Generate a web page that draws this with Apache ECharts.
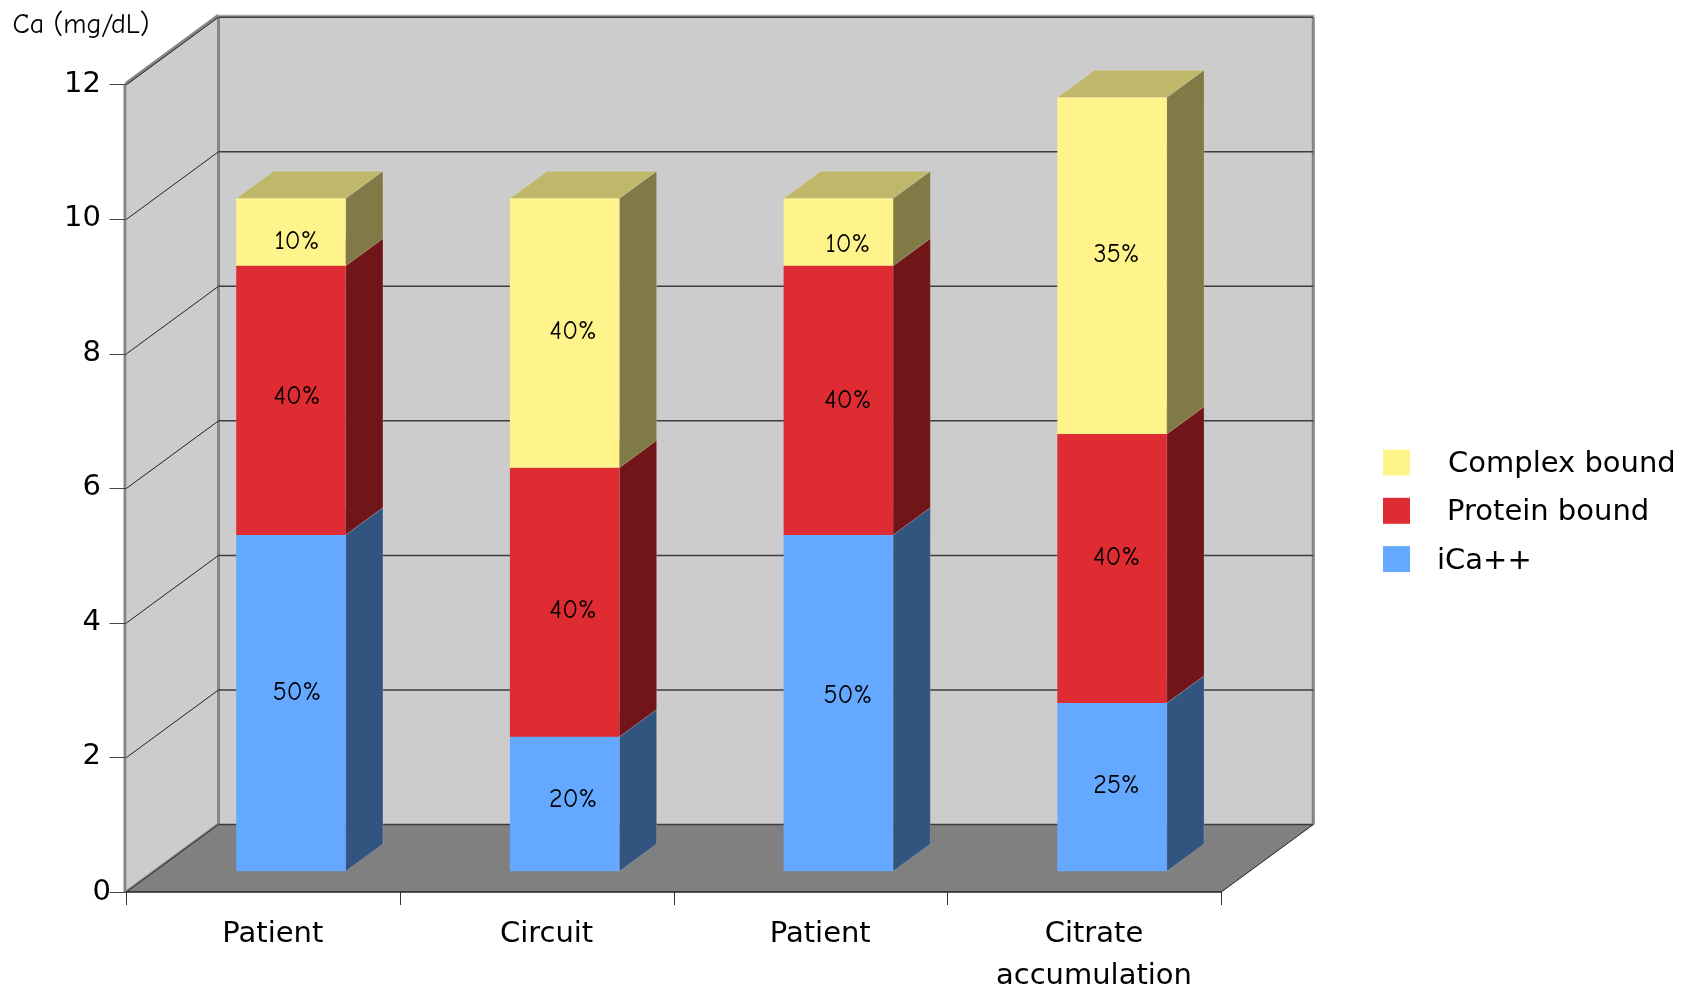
<!DOCTYPE html>
<html>
<head>
<meta charset="utf-8">
<style>html,body{margin:0;padding:0;background:#fff}#chart{width:1692px;height:989px}</style>
<script src="https://cdn.jsdelivr.net/npm/echarts@6/dist/echarts.min.js"></script>
</head>
<body>
<div id="chart"></div>
<script>
// Calcium fractions (mg/dL) at each sampling point
const categories = ['Patient', 'Circuit', 'Patient', 'Citrate\naccumulation'];
const iCa = [5, 2, 5, 2.5];
const proteinBound = [4, 4, 4, 4];
const complexBound = [1, 4, 1, 5];
const iCaPercent = ['50%', '20%', '50%', '25%'];
const proteinPercent = ['40%', '40%', '40%', '40%'];
const complexPercent = ['10%', '40%', '10%', '35%'];
const yTicks = [0, 2, 4, 6, 8, 10, 12];

// Oblique projection of the chart box, in pixels
const DEPTH_X = 92;
const DEPTH_Y = -67.5;
const BAR_NEAR_X = 0.3;
const BAR_NEAR_Y = 0.307;
const BAR_DEPTH = 0.405;
const BAR_WIDTH = 0.4;

const SANS = '"DejaVu Sans", Verdana, sans-serif';
const HAND = '"Comic Sans MS", "Comic Neue", Lato, sans-serif';

// Hand placement of the percentage labels, [dx, dy] from the centre of each segment
const NUDGE_X = [6, 8.5, 9.5, 4.5];
const NUDGE_Y = {
  iCa: [-10.5, -4.5, -7, -2],
  protein: [-3.5, 8.4, 0, -11],
  complex: [9, -1, 12.5, -11.4]
};

function poly(points, fill, stroke) {
  return { type: 'polygon', shape: { points }, style: { fill, stroke: stroke || null, lineWidth: 1 } };
}
function line(x1, y1, x2, y2, stroke, lineWidth) {
  return { type: 'line', shape: { x1, y1, x2, y2 }, style: { stroke, lineWidth, fill: null } };
}

// Back wall, side wall and floor
function renderBox(params, api) {
  const band = api.size([1, 0])[0];
  const last = categories.length - 1;
  const lo = api.coord([0, api.value(0)]);
  const hi = api.coord([0, api.value(1)]);
  const x0 = lo[0] - band / 2;
  const x1 = api.coord([last, 0])[0] + band / 2;
  const y0 = lo[1];
  const y1 = hi[1];
  const bx = x0 + DEPTH_X;
  const bx1 = x1 + DEPTH_X;
  const by0 = y0 + DEPTH_Y;
  const by1 = y1 + DEPTH_Y;
  const edge = '#858585';
  return {
    type: 'group',
    children: [
      poly([[bx, by1], [bx1, by1], [bx1, by0], [bx, by0]], '#cccccc'),
      poly([[x0, y0], [bx, by0], [bx, by1], [x0, y1]], '#cccccc'),
      poly([[x0, y0], [x1, y0], [bx1, by0], [bx, by0]], '#808080'),
      line(x0 - 1.5, y0, x0 - 1.5, y1, edge, 3),
      line(bx, by0, bx, by1, edge, 3),
      line(bx1, by0, bx1, by1, edge, 3),
      line(x0 - 1, y1 - 1, bx, by1 - 2, edge, 3),
      line(bx, by1 - 1, bx1 + 1, by1 - 1, '#a8a8a8', 3),
      line(x0, y0 - 1, bx, by0 - 1, edge, 2)
    ]
  };
}

// One gridline running along the side wall and the back wall
function renderGridLine(params, api) {
  const band = api.size([1, 0])[0];
  const p = api.coord([0, api.value(0)]);
  const x0 = p[0] - band / 2;
  const x1 = api.coord([categories.length - 1, 0])[0] + band / 2;
  const bx = x0 + DEPTH_X;
  const by = p[1] + DEPTH_Y;
  return {
    type: 'group',
    children: [
      line(x0, p[1], bx, by, '#222222', 1),
      line(bx, by, x1 + DEPTH_X, by, '#3c3c3c', 1.5)
    ]
  };
}

// Right-hand floor edge sits above the gridlines
function renderFloorEdge(params, api) {
  const band = api.size([1, 0])[0];
  const p = api.coord([0, 0]);
  const x1 = api.coord([categories.length - 1, 0])[0] + band / 2;
  return line(x1, p[1], x1 + DEPTH_X, p[1] + DEPTH_Y, '#222222', 1);
}

// A stacked segment drawn as an oblique box with its percentage label
function segmentRenderer(faces, nudgeY) {
  return function (params, api) {
    const i = api.value(0);
    const band = api.size([1, 0])[0];
    const width = band * BAR_WIDTH;
    const base = api.coord([i, api.value(1)]);
    const top = api.coord([i, api.value(2)]);
    const left = base[0] + BAR_NEAR_X * DEPTH_X - width / 2;
    const right = left + width;
    const yb = base[1] + BAR_NEAR_Y * DEPTH_Y;
    const yt = top[1] + BAR_NEAR_Y * DEPTH_Y;
    const sx = BAR_DEPTH * DEPTH_X;
    const sy = BAR_DEPTH * DEPTH_Y;
    const pale = 'rgba(255,255,255,0.18)';
    return {
      type: 'group',
      children: [
        poly([[left, yt], [right, yt], [right + sx, yt + sy], [left + sx, yt + sy]], faces.top, pale),
        poly([[right, yb], [right + sx, yb + sy], [right + sx, yt + sy], [right, yt]], faces.side, pale),
        poly([[left, yb], [right, yb], [right, yt], [left, yt]], faces.front),
        {
          type: 'text',
          z2: 10,
          style: {
            text: api.value(3),
            x: (left + right) / 2 + NUDGE_X[i],
            y: (yb + yt) / 2 + nudgeY[i],
            align: 'center',
            verticalAlign: 'middle',
            fill: '#000000',
            font: '26px ' + HAND
          }
        }
      ]
    };
  };
}

function segments(values, below, labels) {
  return values.map((v, i) => [i, below[i], below[i] + v, labels[i]]);
}
const proteinBase = iCa;
const complexBase = iCa.map((v, i) => v + proteinBound[i]);
const zeros = iCa.map(() => 0);

function segmentSeries(name, values, below, labels, faces, nudgeY) {
  return {
    name,
    type: 'custom',
    coordinateSystem: 'cartesian2d',
    itemStyle: { color: faces.front },
    encode: { x: 0, y: [1, 2] },
    dimensions: ['category', 'base', 'top', { name: 'label', type: 'ordinal' }],
    data: segments(values, below, labels),
    renderItem: segmentRenderer(faces, nudgeY)
  };
}

const chart = echarts.init(document.getElementById('chart'), null, { renderer: 'canvas' });
chart.setOption({
  animation: false,
  backgroundColor: '#ffffff',
  grid: { left: 126.5, right: 470.7, top: 84.7, bottom: 97, outerBoundsMode: 'none' },
  legend: {
    orient: 'vertical',
    left: 1383,
    top: 449.5,
    padding: 0,
    itemWidth: 27,
    itemHeight: 26,
    itemGap: 18.8,
    icon: 'rect',
    data: ['Complex bound', 'Protein bound', 'iCa++'],
    formatter: name => {
      const style = name === 'Complex bound' ? 'c' : name === 'Protein bound' ? 'p' : 'i';
      return '{' + style + '|' + name + '}';
    },
    textStyle: {
      color: '#000000',
      fontFamily: SANS,
      fontSize: 29,
      rich: {
        c: { fontFamily: SANS, fontSize: 29, padding: [4, 0, 0, 33] },
        p: { fontFamily: SANS, fontSize: 29, padding: [4, 0, 0, 32] },
        i: { fontFamily: SANS, fontSize: 29, padding: [4, 0, 0, 22] }
      }
    }
  },
  xAxis: {
    type: 'category',
    data: categories,
    z: 10,
    axisLine: { lineStyle: { color: '#222222', width: 1.5 } },
    axisTick: { show: true, alignWithLabel: false, length: 13, lineStyle: { color: '#333333', width: 1 } },
    axisLabel: {
      interval: 0,
      color: '#000000',
      fontFamily: SANS,
      fontSize: 29,
      lineHeight: 42,
      margin: 21.5,
      padding: [0, 0, 0, 19]
    }
  },
  yAxis: {
    type: 'value',
    min: 0,
    max: 12,
    interval: 2,
    z: 10,
    name: 'Ca (mg/dL)',
    nameLocation: 'end',
    nameGap: 46,
    nameTextStyle: { fontFamily: HAND, fontSize: 28, color: '#000000', align: 'center', padding: [0, 91, 0, 0] },
    splitLine: { show: false },
    axisLine: { show: false },
    axisTick: { show: true, length: 17, lineStyle: { color: '#444444', width: 1 } },
    axisLabel: {
      color: '#000000',
      margin: 15.5,
      formatter: v => (v === 0 ? '{z|' + v + '}' : '{n|' + v + '}'),
      rich: {
        n: { fontFamily: SANS, fontSize: 29, color: '#000000', padding: [0, 10, 1, 0] },
        z: { fontFamily: SANS, fontSize: 29, color: '#000000', padding: [0, 0, 0, 0] }
      }
    }
  },
  series: [
    { type: 'custom', coordinateSystem: 'cartesian2d', silent: true, data: [[yTicks[0], yTicks[yTicks.length - 1]]], encode: { y: [0, 1] }, renderItem: renderBox },
    { type: 'custom', coordinateSystem: 'cartesian2d', silent: true, data: yTicks.map(v => [v]), encode: { y: 0 }, renderItem: renderGridLine },
    { type: 'custom', coordinateSystem: 'cartesian2d', silent: true, data: [[0]], encode: { y: 0 }, renderItem: renderFloorEdge },
    segmentSeries('iCa++', iCa, zeros, iCaPercent, { front: '#64a8ff', side: '#32557f', top: '#4b7ebf' }, NUDGE_Y.iCa),
    segmentSeries('Protein bound', proteinBound, proteinBase, proteinPercent, { front: '#de2c32', side: '#701619', top: '#a62125' }, NUDGE_Y.protein),
    segmentSeries('Complex bound', complexBound, complexBase, complexPercent, { front: '#fff38c', side: '#807a46', top: '#bfb769' }, NUDGE_Y.complex)
  ]
});
</script>
</body>
</html>
